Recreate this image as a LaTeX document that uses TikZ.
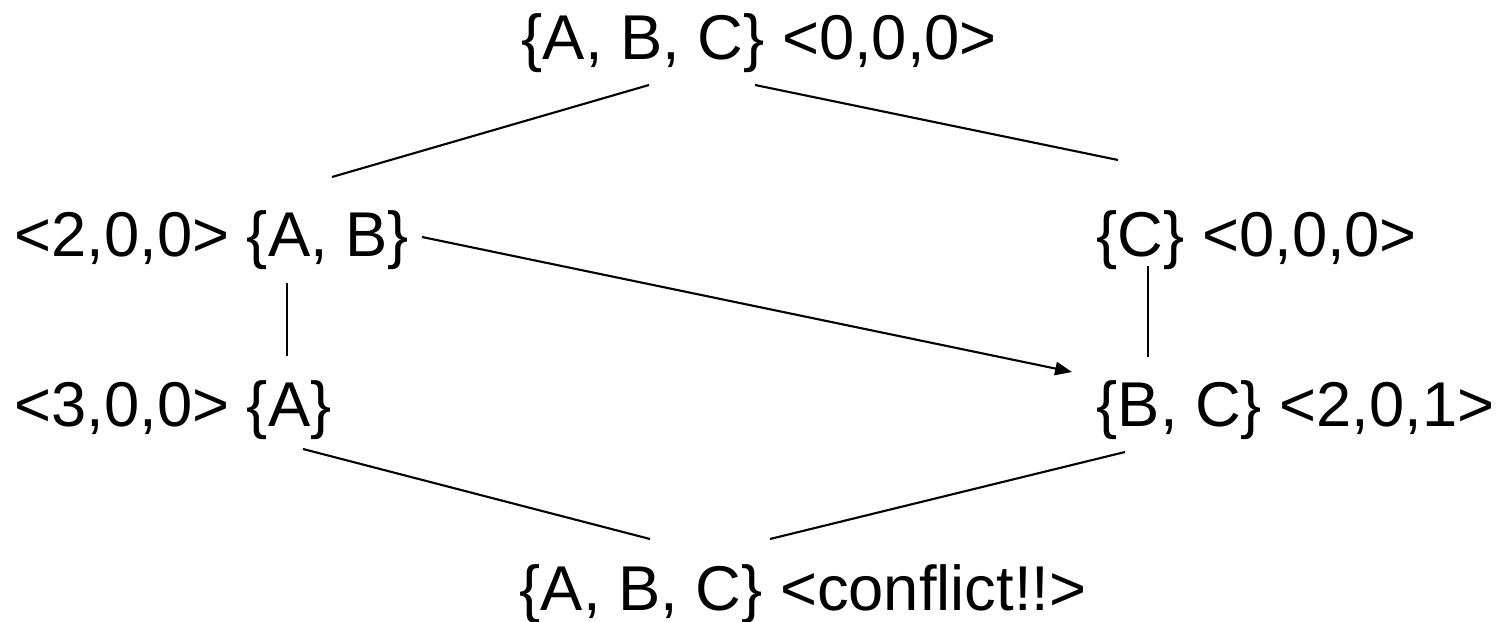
\documentclass[tikz,border=0pt]{standalone}
\usepackage{fontspec}
\setmainfont{Liberation Sans}
\usetikzlibrary{arrows.meta}
\tikzset{
  lbl/.style={anchor=base west, inner sep=0pt, font=\fontsize{18}{21.6}\selectfont},
  conn/.style={line width=0.6pt, black},
  arr/.style={conn, -{Triangle[length=4.8pt,width=3.8pt]}}
}
\begin{document}
\begin{tikzpicture}[x=0.01cm,y=-0.01cm]
\useasboundingbox (0,0) rectangle (1504,622);
\node[lbl] (top) at (521,60) {\{A, B, C\} <0,0,0>};
\node[lbl] (ab) at (14,257) {<2,0,0> \{A, B\}};
\node[lbl] (c) at (1096,257) {\{C\} <0,0,0>};
\node[lbl] (a) at (14,427) {<3,0,0> \{A\}};
\node[lbl] (bc) at (1096,427) {\{B, C\} <2,0,1>};
\node[lbl] (bot) at (519,610) {\{A, B, C\} <conflict!!>};
% connector end points
\coordinate (top-l) at (649,85);
\coordinate (top-r) at (755,85);
\coordinate (ab-t) at (332,177);
\coordinate (c-t) at (1118,160);
\coordinate (ab-b) at (287,283);
\coordinate (a-t) at (287,356);
\coordinate (c-b) at (1148,266);
\coordinate (bc-t) at (1148,357);
\coordinate (ab-r) at (422,237);
\coordinate (bc-l) at (1072,372);
\coordinate (a-b) at (303,449);
\coordinate (bot-l) at (650,539);
\coordinate (bot-r) at (770,539);
\coordinate (bc-b) at (1125,452);
\draw[conn] (top-l) -- (ab-t);
\draw[conn] (top-r) -- (c-t);
\draw[conn] (ab-b) -- (a-t);
\draw[conn] (c-b) -- (bc-t);
\draw[arr] (ab-r) -- (bc-l);
\draw[conn] (a-b) -- (bot-l);
\draw[conn] (bot-r) -- (bc-b);
\end{tikzpicture}
\end{document}
